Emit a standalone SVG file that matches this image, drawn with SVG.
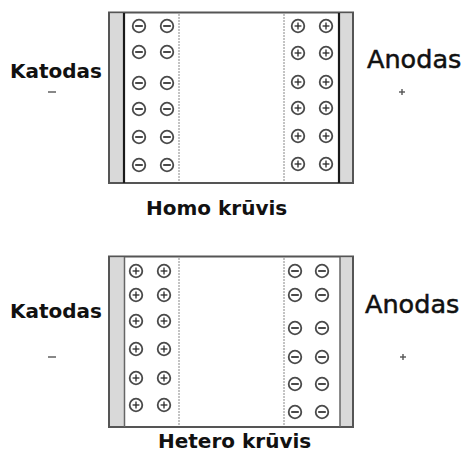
<svg xmlns="http://www.w3.org/2000/svg" width="465" height="454" viewBox="0 0 465 454">
  <style>
    .frame { fill: #ffffff; stroke: #555555; stroke-width: 2; }
    .strip { fill: #d9d9d9; }
    .plate { stroke: #1a1a1a; stroke-width: 2.2; }
    .plate-thin { stroke: #666666; stroke-width: 1.5; }
    .sep { stroke: #888888; stroke-width: 1; stroke-dasharray: 2 1; }
    .ion { fill: #ffffff; stroke: #4a4a4a; stroke-width: 1.8; }
    .sign { stroke: #2a2a2a; stroke-width: 1.7; fill: none; }
    .sign-p { stroke: #2a2a2a; stroke-width: 1.3; fill: none; }
    .lbl-b { font-family: "DejaVu Sans", Verdana, sans-serif; font-weight: bold; fill: #111111; }
    .lbl-r { font-family: "DejaVu Sans", Verdana, sans-serif; fill: #111111; stroke: #111111; stroke-width: 0.5; }
    .pole { stroke: #555555; stroke-width: 1.4; }
  </style>
  <defs>
    <g id="neg">
      <circle class="ion" r="6.3"/>
      <line class="sign" x1="-3.8" y1="0" x2="3.8" y2="0"/>
    </g>
    <g id="pos">
      <circle class="ion" r="6.3"/>
      <line class="sign-p" x1="-3.4" y1="0" x2="3.4" y2="0"/>
      <line class="sign-p" x1="0" y1="-3.4" x2="0" y2="3.4"/>
    </g>
  </defs>

  <!-- Homo charge cell -->
  <g id="homo-cell">
    <rect class="frame" x="109" y="12.5" width="244" height="170.5"/>
    <rect class="strip" x="110" y="13.5" width="14" height="168.5"/>
    <rect class="strip" x="339" y="13.5" width="13" height="168.5"/>
    <line class="plate" x1="124" y1="13" x2="124" y2="183"/>
    <line class="plate" x1="339" y1="13" x2="339" y2="183"/>
    <line class="sep" x1="179" y1="14" x2="179" y2="182"/>
    <line class="sep" x1="284" y1="14" x2="284" y2="182"/>
  </g>
  <g id="homo-ions">
    <use href="#neg" x="139" y="26"/><use href="#neg" x="167" y="26"/>
    <use href="#neg" x="139" y="52"/><use href="#neg" x="167" y="52"/>
    <use href="#neg" x="139" y="83"/><use href="#neg" x="167" y="83"/>
    <use href="#neg" x="139" y="109"/><use href="#neg" x="167" y="109"/>
    <use href="#neg" x="139" y="137"/><use href="#neg" x="167" y="137"/>
    <use href="#neg" x="139" y="165"/><use href="#neg" x="167" y="165"/>
    <use href="#pos" x="298" y="26"/><use href="#pos" x="326" y="26"/>
    <use href="#pos" x="298" y="53"/><use href="#pos" x="326" y="53"/>
    <use href="#pos" x="298" y="82"/><use href="#pos" x="326" y="82"/>
    <use href="#pos" x="298" y="108"/><use href="#pos" x="326" y="108"/>
    <use href="#pos" x="298" y="136"/><use href="#pos" x="326" y="136"/>
    <use href="#pos" x="298" y="164"/><use href="#pos" x="326" y="164"/>
  </g>
  <g id="homo-labels">
    <text class="lbl-b" x="10" y="78" font-size="20">Katodas</text>
    <line class="pole" x1="48" y1="92" x2="56" y2="92"/>
    <text class="lbl-r" x="367" y="68" font-size="25.5">Anodas</text>
    <line class="pole" x1="399" y1="92" x2="405" y2="92"/>
    <line class="pole" x1="402" y1="89" x2="402" y2="95"/>
    <text class="lbl-b" x="146" y="215" font-size="20">Homo krūvis</text>
  </g>

  <!-- Hetero charge cell -->
  <g id="hetero-cell">
    <rect class="frame" x="109" y="256.5" width="244" height="170.5"/>
    <rect class="strip" x="110" y="257.5" width="14.5" height="168.5"/>
    <rect class="strip" x="340" y="257.5" width="12" height="168.5"/>
    <line class="plate-thin" x1="124.5" y1="257" x2="124.5" y2="427"/>
    <line class="plate-thin" x1="340" y1="257" x2="340" y2="427"/>
    <line class="sep" x1="179" y1="258" x2="179" y2="426"/>
    <line class="sep" x1="284" y1="258" x2="284" y2="426"/>
  </g>
  <g id="hetero-ions">
    <use href="#pos" x="136" y="271"/><use href="#pos" x="164" y="271"/>
    <use href="#pos" x="136" y="295"/><use href="#pos" x="164" y="295"/>
    <use href="#pos" x="136" y="321"/><use href="#pos" x="164" y="321"/>
    <use href="#pos" x="136" y="349"/><use href="#pos" x="164" y="349"/>
    <use href="#pos" x="136" y="378"/><use href="#pos" x="164" y="378"/>
    <use href="#pos" x="136" y="405"/><use href="#pos" x="164" y="405"/>
    <use href="#neg" x="295" y="271"/><use href="#neg" x="322" y="271"/>
    <use href="#neg" x="295" y="295"/><use href="#neg" x="322" y="295"/>
    <use href="#neg" x="295" y="328"/><use href="#neg" x="322" y="328"/>
    <use href="#neg" x="295" y="357"/><use href="#neg" x="322" y="357"/>
    <use href="#neg" x="295" y="384"/><use href="#neg" x="322" y="384"/>
    <use href="#neg" x="295" y="412"/><use href="#neg" x="322" y="412"/>
  </g>
  <g id="hetero-labels">
    <text class="lbl-b" x="10" y="318" font-size="20">Katodas</text>
    <line class="pole" x1="48" y1="357" x2="56" y2="357"/>
    <text class="lbl-r" x="365" y="313" font-size="25.5">Anodas</text>
    <line class="pole" x1="400" y1="357" x2="406" y2="357"/>
    <line class="pole" x1="403" y1="354" x2="403" y2="360"/>
    <text class="lbl-b" x="158" y="448" font-size="20">Hetero krūvis</text>
  </g>
</svg>
